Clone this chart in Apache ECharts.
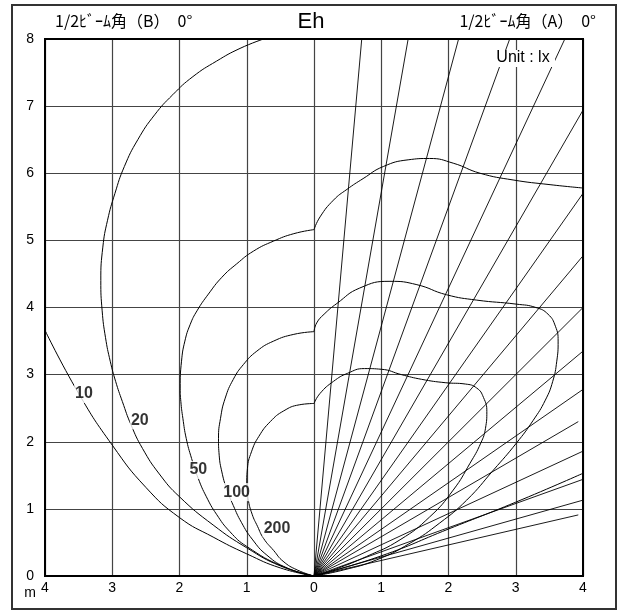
<!DOCTYPE html>
<html><head><meta charset="utf-8">
<script src="https://cdn.jsdelivr.net/npm/echarts@6/dist/echarts.min.js"></script>
<style>html,body{margin:0;padding:0;background:#fff}#c{width:630px;height:610px}</style>
</head><body><div id="c"></div>
<script>
// ---- data ----
const xTickLabels = ['4','3','2','1','0','1','2','3','4'];
const yTickLabels = ['0','1','2','3','4','5','6','7','8'];
const titleMain = 'Eh';
const titleLeft = '1/2ﾋﾞｰﾑ角（B）　0°';
const titleRight = '1/2ﾋﾞｰﾑ角（A）　0°';
const unitText = 'Unit : lx';
const axisUnit = 'm';
const contourLevels = ['10','20','50','100','200'];
const contourLabelPos = [[-3.42,2.71],[-2.59,2.32],[-1.72,1.58],[-1.15,1.25],[-0.55,0.71]];

const c10B = [[0,0],[-0.5,0.12],[-1,0.33],[-1.5,0.58],[-2,0.87],[-2.5,1.32],[-3,1.95],[-3.5,2.72],[-4,3.66]];
const c20B = [[0,0],[-0.5,0.15],[-1,0.42],[-1.5,0.76],[-2,1.18],[-2.3,1.52],[-2.55,1.9],[-2.72,2.25],[-2.85,2.6],[-2.95,2.9],[-3.03,3.2],[-3.1,3.55],[-3.15,3.95],[-3.17,4.4],[-3.14,4.9],[-3.07,5.3],[-2.96,5.7],[-2.82,6.1],[-2.62,6.5],[-2.37,6.87],[-2.1,7.17],[-1.8,7.44],[-1.45,7.67],[-1.1,7.86],[-0.75,8.0]];
const c50B = [[0,0],[-0.46,0.14],[-1.0,0.44],[-1.25,0.66],[-1.45,0.92],[-1.6,1.18],[-1.72,1.45],[-1.82,1.75],[-1.9,2.05],[-1.95,2.35],[-1.98,2.6],[-1.99,2.8],[-1.97,3.2],[-1.92,3.5],[-1.84,3.75],[-1.74,3.95],[-1.57,4.2],[-1.37,4.45],[-1.15,4.65],[-0.9,4.84],[-0.6,4.99],[-0.3,5.1],[0,5.16]];
const c100B = [[0,0],[-0.4,0.12],[-0.7,0.31],[-0.92,0.55],[-1.08,0.8],[-1.2,1.05],[-1.3,1.3],[-1.37,1.55],[-1.41,1.8],[-1.42,2.05],[-1.39,2.35],[-1.32,2.65],[-1.2,2.93],[-1.05,3.15],[-0.85,3.35],[-0.6,3.5],[-0.3,3.6],[0,3.64]];
const c200B = [[0,0],[-0.25,0.09],[-0.46,0.22],[-0.6,0.38],[-0.75,0.56],[-0.84,0.74],[-0.92,0.92],[-0.98,1.15],[-1.0,1.38],[-0.99,1.6],[-0.93,1.85],[-0.82,2.08],[-0.65,2.3],[-0.45,2.46],[-0.22,2.55],[0,2.57]];

const c50A = [[0,5.16],[0.09,5.35],[0.29,5.6],[0.49,5.76],[0.73,5.92],[1.03,6.1],[1.4,6.2],[1.72,6.22],[2.07,6.15],[2.47,6.0],[2.96,5.9],[3.51,5.83],[4.0,5.78]];
const c100A = [[0,3.64],[0.04,3.77],[0.15,3.9],[0.34,4.06],[0.68,4.29],[1.13,4.39],[1.53,4.34],[1.97,4.19],[2.42,4.11],[3.01,4.05],[3.3,4.0],[3.48,3.9],[3.59,3.72],[3.63,3.5],[3.61,3.2],[3.55,2.9],[3.44,2.62],[3.26,2.32],[3.01,1.98],[2.67,1.58],[2.27,1.13],[1.87,0.79],[1.43,0.49],[0.93,0.24],[0.44,0.09],[0,0]];
const c200A = [[0,2.57],[0.09,2.72],[0.29,2.9],[0.5,3.02],[0.75,3.09],[1.0,3.08],[1.3,3.0],[1.6,2.93],[1.95,2.88],[2.25,2.86],[2.42,2.8],[2.52,2.66],[2.57,2.45],[2.55,2.2],[2.48,1.98],[2.32,1.68],[2.07,1.28],[1.72,0.88],[1.28,0.54],[0.78,0.29],[0.34,0.11],[0,0]];

// fan lines: end points
const rayEnds = [[0.71,8],[1.40,8],[2.15,8],[2.91,8],[3.73,8],[4,6.94],[4,5.70],[4,4.77],[4,4.0],[4,3.35],[4,2.78],[3.93,2.30],[4,1.86],[4,1.44],[4,1.13],[3.93,0.91]];
const extraA = [[0,0],[1,0.3],[2,0.7],[3,1.1],[4,1.53]];

// ---- chart ----
const chart = echarts.init(document.getElementById('c'), null, {renderer:'canvas'});
const lineS = d => ({type:'line', data:d, showSymbol:false, smooth:0.5, silent:true, animation:false, z:3,
  lineStyle:{color:'#000', width:1}});
const series = [];
[c10B,c20B,c50B,c100B,c200B,c50A,c100A,c200A,extraA].forEach(d => series.push(lineS(d)));
rayEnds.forEach(e => series.push({type:'line', data:[[0,0],e], showSymbol:false, silent:true, animation:false, z:3,
  lineStyle:{color:'#000', width:0.9}}));
series.push({type:'scatter', symbolSize:1, z:10, animation:false, silent:true,
  itemStyle:{color:'transparent'},
  data: contourLevels.map((t,i)=>[contourLabelPos[i][0], contourLabelPos[i][1], t]),
  label:{show:true, position:'inside', formatter:p=>p.value[2], color:'#000', fontWeight:'bold', fontSize:16,
    fontFamily:'Liberation Sans Narrow, Liberation Sans', backgroundColor:'#fff', padding:[1,1]}});

const axLbl = {color:'#000', fontSize:14, fontFamily:'Liberation Sans Narrow, Liberation Sans'};
chart.setOption({
  animation:false,
  grid:{left:45, right:47, top:39, bottom:34, show:true, borderColor:'#000', borderWidth:2, backgroundColor:'transparent', z:5},
  xAxis:{type:'value', min:-4, max:4, interval:1, axisLine:{show:false}, axisTick:{show:false},
    splitLine:{lineStyle:{color:'#444', width:1.2}},
    axisLabel:Object.assign({margin:5, formatter:v=>xTickLabels[Math.round(v)+4]}, axLbl)},
  yAxis:{type:'value', min:0, max:8, interval:1, axisLine:{show:false}, axisTick:{show:false},
    splitLine:{lineStyle:{color:'#444', width:1.2}},
    axisLabel:Object.assign({margin:11, formatter:v=>yTickLabels[Math.round(v)]}, axLbl)},
  series: series,
  graphic:[
    {type:'rect', shape:{x:12, y:5, width:604, height:604}, style:{fill:'none', stroke:'#333', lineWidth:2}, z:0},
    {type:'text', x:55, y:21, style:{text:titleLeft, font:'16px "Noto Sans CJK JP"', fill:'#000', textVerticalAlign:'middle'}},
    {type:'text', x:311, y:22, style:{text:titleMain, font:'22px "Liberation Sans"', fill:'#000', textAlign:'center', textVerticalAlign:'middle'}},
    {type:'text', x:596, y:21, style:{text:titleRight, font:'16px "Noto Sans CJK JP"', fill:'#000', textAlign:'right', textVerticalAlign:'middle'}},
    {type:'rect', shape:{x:491, y:50, width:64, height:17}, style:{fill:'#fff'}, z:20},
    {type:'text', x:523, y:58, z:21, style:{text:unitText, font:'16px "Liberation Sans"', fill:'#000', textAlign:'center', textVerticalAlign:'middle'}},
    {type:'text', x:30, y:593, style:{text:axisUnit, font:'14px "Liberation Sans"', fill:'#000', textAlign:'center', textVerticalAlign:'middle'}}
  ]
});
</script></body></html>
